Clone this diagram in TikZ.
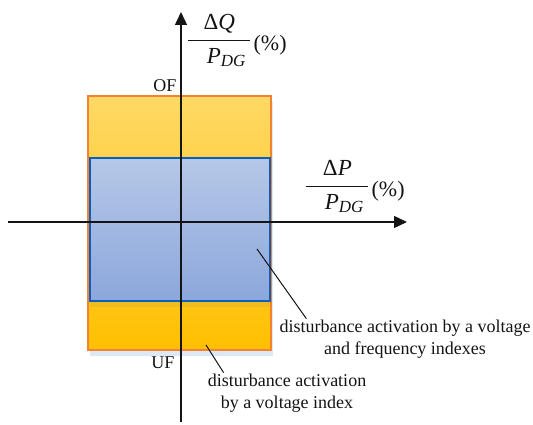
\documentclass[tikz,border=0pt]{standalone}
\usepackage{fontspec}
\setmainfont{Liberation Serif}
\usetikzlibrary{arrows.meta,positioning,shadows}
\definecolor{sun}{RGB}{255,217,102}
\definecolor{gold}{RGB}{255,192,0}
\definecolor{tangerine}{RGB}{244,130,50}
\definecolor{sky}{RGB}{182,200,232}
\definecolor{steel}{RGB}{140,167,220}
\definecolor{royal}{RGB}{10,95,190}
\definecolor{frost}{RGB}{221,232,245}
\definecolor{ink}{RGB}{20,20,20}
\tikzset{
  >={Triangle[length=13pt,width=12pt]},
  axis/.style={->,line width=1.4pt,draw=ink},
  zone/.style={draw=#1,line width=1.6pt,inner sep=0pt},
  tag/.style={font=\fontsize{18}{22}\selectfont,text=ink,align=center,inner sep=1pt},
  leader/.style={draw=ink,line width=1pt},
  ratio/.style={inner sep=0pt,anchor=base west,text=ink},
}
% fraction label: Delta X over P_DG, then (%)
\newcommand{\ratio}[1]{{\fontsize{23}{26}\selectfont$\displaystyle\frac{\makebox[62pt]{Δ\textit{#1}}}{\mbox{\kern14pt\textit{P}}_{\mbox{\fontsize{17}{17}\selectfont\textit{DG}}}}$}\kern2pt\raisebox{-5pt}{\fontsize{22}{24}\selectfont(\%)}}

\begin{document}
\begin{tikzpicture}[x=1pt,y=-1pt]
  \useasboundingbox (0,0) rectangle (533,425);
  % regions
  \node[zone=tangerine,top color=sun,bottom color=gold,minimum width=183pt,minimum height=254pt,
    drop shadow={shadow xshift=2pt,shadow yshift=-6pt,fill=frost,opacity=1}] (band) at (179.5,223) {};
  \node[zone=royal,top color=sky,bottom color=steel,minimum width=180pt,minimum height=143pt,
    drop shadow={shadow xshift=0pt,shadow yshift=-6pt,opacity=0.12}] (core) at (180,229.5) {};
  % axes
  \coordinate (ybot) at (181,422);
  \coordinate (ytop) at (181,12);
  \coordinate (xleft) at (8,222);
  \coordinate (xright) at (407,222);
  \draw[axis] (ybot) -- (ytop);
  \draw[axis] (xleft) -- (xright);
  \node[ratio] (dq) at (187,46) {\ratio{Q}};
  \node[ratio] (dp) at (305,192) {\ratio{P}};
  \node[tag] (of) at (165,86) {OF};
  \node[tag] (uf) at (163,363) {UF};
  % notes
  \node[tag] (both) at (405,339) {disturbance activation by a voltage\\and frequency indexes};
  \node[tag] (volt) at (287,393) {disturbance activation\\by a voltage index};
  \coordinate (p1) at (257,249);
  \coordinate (p2) at (206,345);
  \draw[leader] (p1) -- ([xshift=28pt]both.north west);
  \draw[leader] (p2) -- ([xshift=17pt]volt.north west);
\end{tikzpicture}
\end{document}
